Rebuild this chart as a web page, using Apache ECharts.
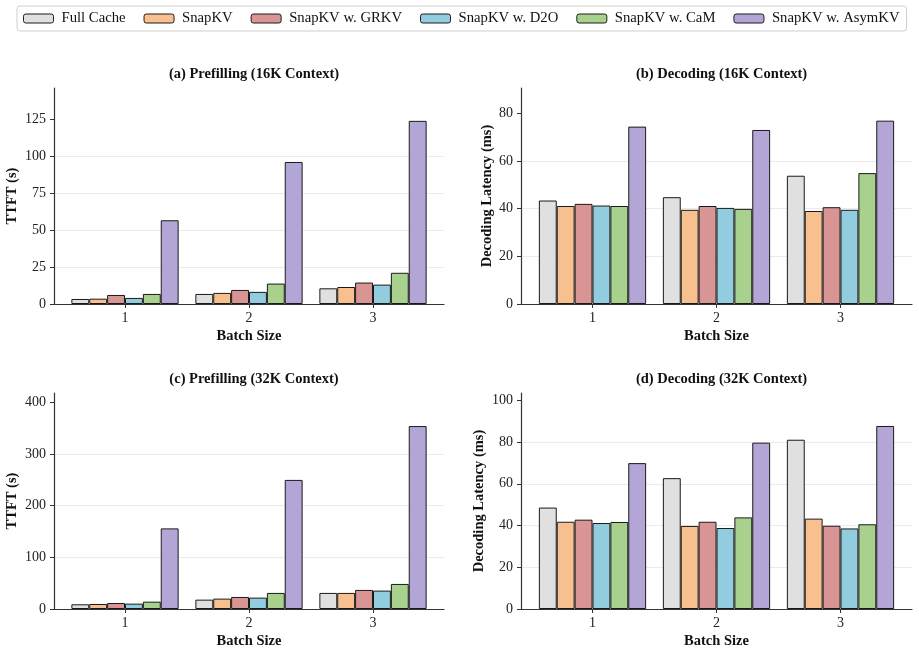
<!DOCTYPE html>
<html>
<head>
<meta charset="utf-8">
<script src="https://cdn.jsdelivr.net/npm/echarts@6/dist/echarts.min.js"></script>
<style>
  html, body { margin: 0; padding: 0; background: #fff; }
  #main { width: 919px; height: 652px; }
</style>
</head>
<body>
<div id="main"></div>
<script>
// batch sizes on the x axis
var batchSizes = ['1', '2', '3'];
var methods = ['Full Cache', 'SnapKV', 'SnapKV w. GRKV', 'SnapKV w. D2O', 'SnapKV w. CaM', 'SnapKV w. AsymKV'];
var colors = ['#e0e0e0', '#f8c08f', '#d99594', '#92cddf', '#a8d18d', '#b3a6d6'];

// one row per method, values for batch 1,2,3
var prefill16 = [
  [3.4, 6.8, 10.6],
  [3.6, 7.5, 11.5],
  [6.1, 9.5, 14.5],
  [4.1, 8.2, 13.1],
  [6.8, 13.8, 21.1],
  [56.6, 96.0, 123.8]
];
var decode16 = [
  [43.4, 44.8, 53.8],
  [41.1, 39.5, 39.0],
  [42.0, 41.1, 40.6],
  [41.3, 40.3, 39.5],
  [41.1, 39.9, 54.9],
  [74.4, 73.0, 76.9]
];
var prefill32 = [
  [9.1, 18.1, 31.1],
  [9.7, 20.1, 31.1],
  [11.6, 23.3, 36.9],
  [10.4, 22.0, 35.6],
  [14.2, 31.1, 48.5],
  [156, 249.8, 354]
];
var decode32 = [
  [48.6, 62.7, 81.1],
  [41.8, 39.8, 43.3],
  [42.8, 41.8, 39.9],
  [41.2, 38.8, 38.6],
  [41.7, 43.9, 40.6],
  [69.9, 79.7, 87.7]
];

var titles = ['(a) Prefilling (16K Context)', '(b) Decoding (16K Context)', '(c) Prefilling (32K Context)', '(d) Decoding (32K Context)'];
var yNames = ['TTFT (s)', 'Decoding Latency (ms)', 'TTFT (s)', 'Decoding Latency (ms)'];
var yTicks = [
  [0, 25, 50, 75, 100, 125],
  [0, 20, 40, 60, 80],
  [0, 100, 200, 300, 400],
  [0, 20, 40, 60, 80, 100]
];
var panels = [prefill16, decode16, prefill32, decode32];

var FONT = 'Liberation Serif';
// outer boxes (axis frame); bars go in a slightly narrower inner grid like matplotlib margins
var frames = [
  { left: 54, width: 390, top: 88, height: 216 },
  { left: 521, width: 391, top: 88, height: 216 },
  { left: 54, width: 390, top: 393, height: 216 },
  { left: 521, width: 391, top: 393, height: 216 }
];
var bandW = 124;
var yMax = [146, 90.6, 418, 103.5];
var yIntv = [25, 20, 100, 20];
var yNameGap = [34, 26, 34, 34];

var chart = echarts.init(document.getElementById('main'));

var grids = [], xAxes = [], yAxes = [], series = [], titleList = [];
for (var p = 0; p < 4; p++) {
  var f = frames[p];
  grids.push({ left: f.left, width: f.width, top: f.top, height: f.height });
  var innerW = bandW * 3;
  grids.push({ left: f.left + (f.width - innerW) / 2, width: innerW, top: f.top, height: f.height });

  titleList.push({
    text: titles[p],
    left: f.left + f.width / 2,
    top: f.top - 26,
    textAlign: 'center',
    textStyle: { fontFamily: FONT, fontSize: 14.5, fontWeight: 'bold', color: '#111' }
  });

  // frame axes
  xAxes.push({
    type: 'value', gridIndex: 2 * p, min: 0, max: 1,
    axisLine: { show: true, onZero: false, lineStyle: { color: '#333', width: 1.2 } },
    axisTick: { show: false }, axisLabel: { show: false }, splitLine: { show: false }
  });
  yAxes.push({
    type: 'value', gridIndex: 2 * p, min: 0, max: yMax[p], interval: yIntv[p],
    name: yNames[p], nameLocation: 'middle', nameGap: yNameGap[p], nameRotate: 90,
    nameTextStyle: { fontFamily: FONT, fontSize: 14.5, fontWeight: 'bold', color: '#111' },
    axisLine: { show: true, lineStyle: { color: '#333', width: 1.2 } },
    axisTick: { show: true, length: 4, lineStyle: { color: '#333' }, customValues: yTicks[p] },
    axisLabel: { fontFamily: FONT, fontSize: 14, color: '#222', margin: 8, customValues: yTicks[p] },
    splitLine: { show: true, showMaxLine: false, lineStyle: { color: '#ebebeb', width: 1 } }
  });

  // bar axes
  xAxes.push({
    type: 'category', gridIndex: 2 * p + 1, data: batchSizes,
    name: 'Batch Size', nameLocation: 'middle', nameGap: 25,
    nameTextStyle: { fontFamily: FONT, fontSize: 14.5, fontWeight: 'bold', color: '#111' },
    axisLine: { show: false },
    axisTick: { show: true, alignWithLabel: true, length: 4, lineStyle: { color: '#333' } },
    axisLabel: { fontFamily: FONT, fontSize: 14, color: '#222', margin: 7 }
  });
  yAxes.push({
    type: 'value', gridIndex: 2 * p + 1, min: 0, max: yMax[p], show: false
  });

  for (var m = 0; m < methods.length; m++) {
    series.push({
      type: 'bar', name: methods[m], xAxisIndex: 2 * p + 1, yAxisIndex: 2 * p + 1,
      data: panels[p][m],
      barGap: '0%', barCategoryGap: '13.5%',
      itemStyle: { color: colors[m], borderColor: '#1a1a1a', borderWidth: 1 },
      emphasis: { disabled: true },
      animation: false
    });
  }
}

chart.setOption({
  animation: false,
  title: titleList,
  legend: {
    data: methods,
    top: 6, left: 17,
    padding: [5, 7, 5, 6],
    itemGap: 18,
    itemWidth: 30, itemHeight: 9,
    borderColor: '#cfcfcf', borderWidth: 1, borderRadius: 3,
    textStyle: { fontFamily: FONT, fontSize: 14.7, color: '#111', padding: [0, 0, 0, 3] },
    itemStyle: { borderColor: '#1a1a1a', borderWidth: 1 }
  },
  grid: grids,
  xAxis: xAxes,
  yAxis: yAxes,
  series: series
});
</script>
</body>
</html>
